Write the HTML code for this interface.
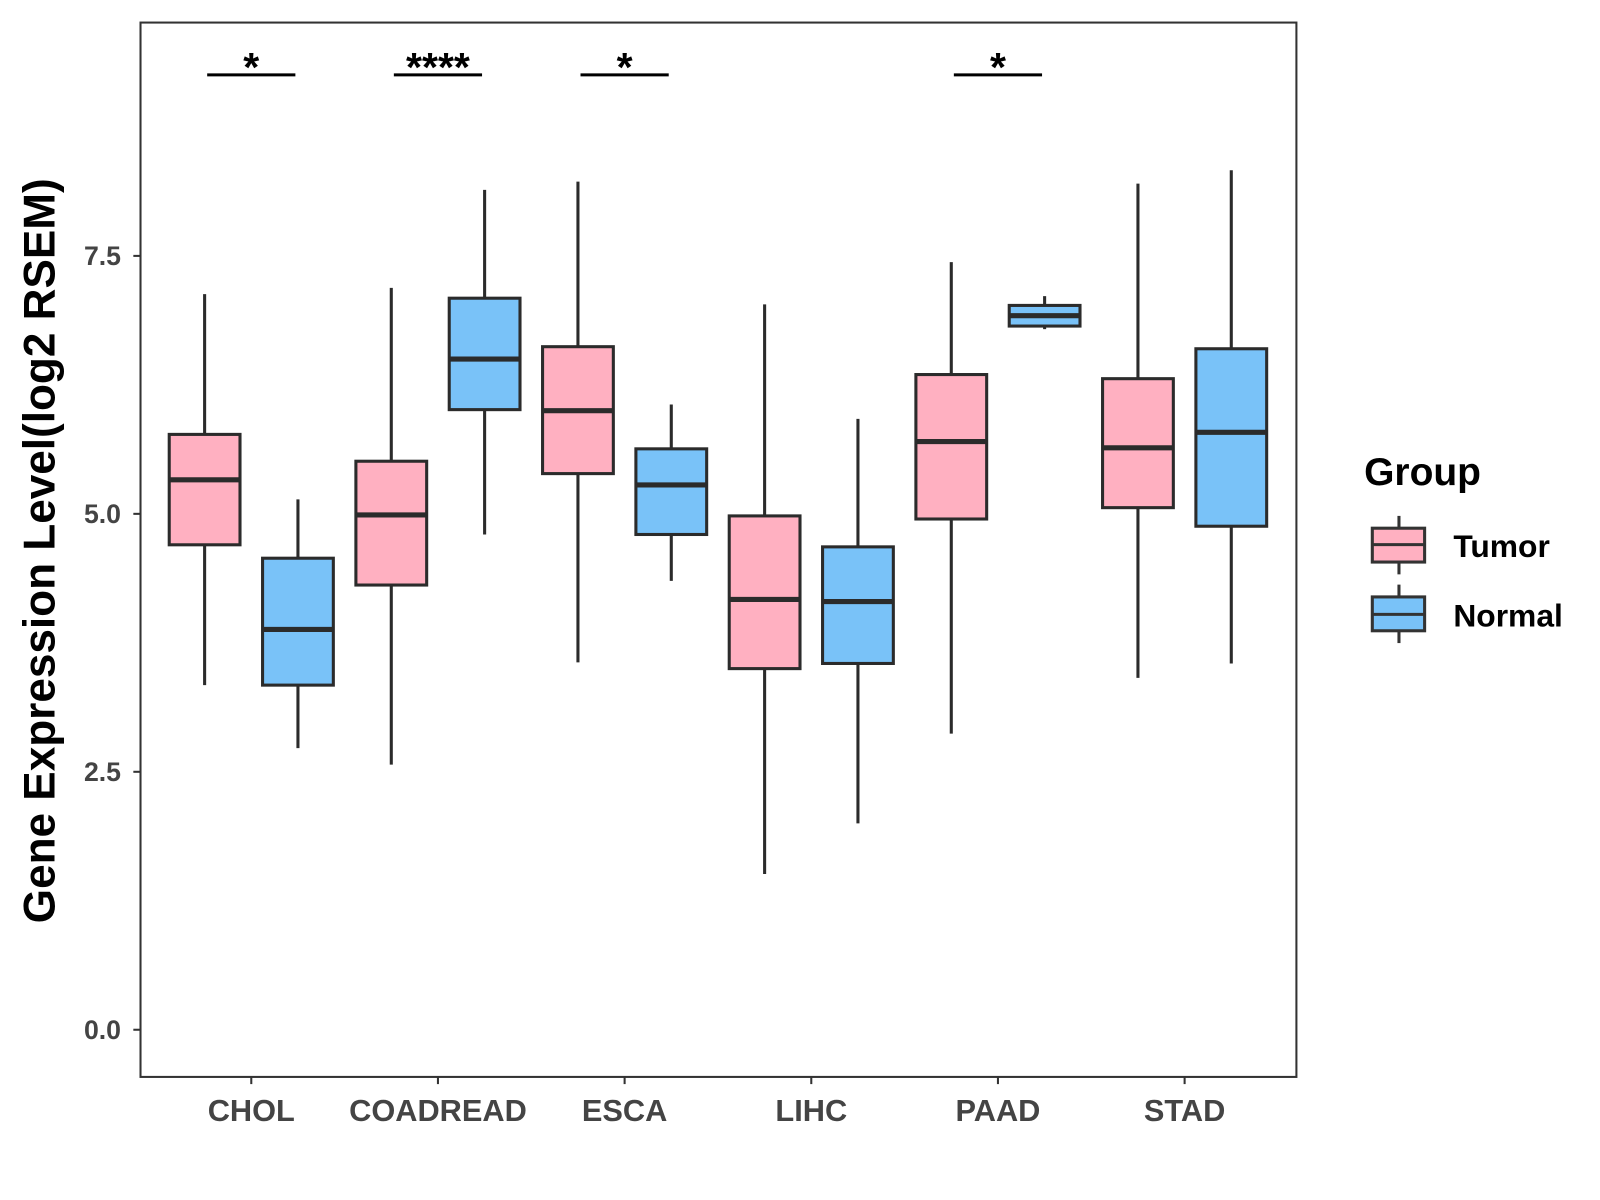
<!DOCTYPE html>
<html><head><meta charset="utf-8"><style>html,body{margin:0;padding:0;background:#fff;}svg{display:block;font-family:"Liberation Sans",Arial,sans-serif;}</style></head>
<body>
<svg id="chart" width="1600" height="1200" viewBox="0 0 1560 1170" xmlns="http://www.w3.org/2000/svg">
<rect x="0" y="0" width="1560" height="1170" fill="#fff"/>
<rect x="137" y="22" width="1127" height="1028" fill="none" stroke="#333" stroke-width="2"/>
<g id="marks"></g>
<text transform="translate(53,537) rotate(-90)" text-anchor="middle" font-size="43" font-weight="bold" fill="#000">Gene Expression Level(log2 RSEM)</text>
<g>
<text x="1330" y="473" font-size="38" font-weight="bold">Group</text>
<line x1="1364" y1="503" x2="1364" y2="560" stroke="#333" stroke-width="3"/>
<rect x="1338" y="515" width="51" height="33" fill="#FFB0C1" stroke="#333" stroke-width="3"/>
<line x1="1338" y1="531" x2="1389" y2="531" stroke="#333" stroke-width="3"/>
<text x="1417" y="543" font-size="31" font-weight="bold">Tumor</text>
<line x1="1364" y1="570" x2="1364" y2="627" stroke="#333" stroke-width="3"/>
<rect x="1338" y="582" width="51" height="33" fill="#79C2F8" stroke="#333" stroke-width="3"/>
<line x1="1338" y1="599" x2="1389" y2="599" stroke="#333" stroke-width="3"/>
<text x="1417" y="611" font-size="31" font-weight="bold">Normal</text>
</g>
</svg>
<script>
const categories = ["CHOL","COADREAD","ESCA","LIHC","PAAD","STAD"];
const tumorStats = [
 [3.34,4.70,5.33,5.77,7.13],
 [2.57,4.31,4.99,5.51,7.19],
 [3.56,5.39,6.00,6.62,8.22],
 [1.51,3.50,4.17,4.98,7.03],
 [2.87,4.95,5.70,6.35,7.44],
 [3.41,5.06,5.64,6.31,8.20]
];
const normalStats = [
 [2.73,3.34,3.88,4.57,5.14],
 [4.80,6.01,6.50,7.09,8.14],
 [4.35,4.80,5.28,5.63,6.06],
 [2.00,3.55,4.15,4.68,5.92],
 [6.79,6.82,6.92,7.02,7.11],
 [3.55,4.88,5.79,6.60,8.33]
];
const significance = ["*","****","*","","*",""];
const yTicks = [0,2.5,5,7.5];
const yTickLabels = ["0.0","2.5","5.0","7.5"];

const NS="http://www.w3.org/2000/svg";
const g=document.getElementById('marks');
function y(v){return 1004-100.6*v;}
function x(i){return 245+182*i;}
function mk(tag,attrs,parent){const e=document.createElementNS(NS,tag);for(const k in attrs)e.setAttribute(k,attrs[k]);(parent||g).appendChild(e);return e;}

yTicks.forEach((t,i)=>{
 const l=mk('line',{x1:130,x2:137,y1:y(t),y2:y(t),stroke:'#333','stroke-width':2});
 
 
 const tx=mk('text',{x:118,y:y(t)+9,'text-anchor':'end','font-size':26,'font-weight':'bold',fill:'#444'});
 tx.textContent=yTickLabels[i];
 
 
});
categories.forEach((c,i)=>{
 const l=mk('line',{x1:x(i),x2:x(i),y1:1050,y2:1057,stroke:'#333','stroke-width':2});
 
 
 const tx=mk('text',{x:x(i),y:1093,'text-anchor':'middle','font-size':30,'font-weight':'bold',fill:'#444'});
 tx.textContent=c;
 
 
});
function box(cx,s,fill,name){
 const grp=mk('g',{});
 
 
 const hw=34.5;
 mk('line',{x1:cx,x2:cx,y1:y(s[0]),y2:y(s[4]),stroke:'#2b2b2b','stroke-width':3},grp);
 mk('rect',{x:cx-hw,y:y(s[3]),width:2*hw,height:y(s[1])-y(s[3]),fill:fill,stroke:'#2b2b2b','stroke-width':3},grp);
 mk('line',{x1:cx-hw,x2:cx+hw,y1:y(s[2]),y2:y(s[2]),stroke:'#2b2b2b','stroke-width':5},grp);
}
categories.forEach((c,i)=>{
 box(x(i)-45.5,tumorStats[i],'#FFB0C1','box-tumor-'+c.toLowerCase());
 box(x(i)+45.5,normalStats[i],'#79C2F8','box-normal-'+c.toLowerCase());
 if(significance[i]){
  const l=mk('line',{x1:x(i)-43,x2:x(i)+43,y1:73,y2:73,stroke:'#000','stroke-width':3});
  
  
  const t=mk('text',{x:x(i),y:79,'text-anchor':'middle','font-size':40,'font-weight':'bold',fill:'#000'});
  t.textContent=significance[i];
  
  
 }
});
</script>
</body></html>
